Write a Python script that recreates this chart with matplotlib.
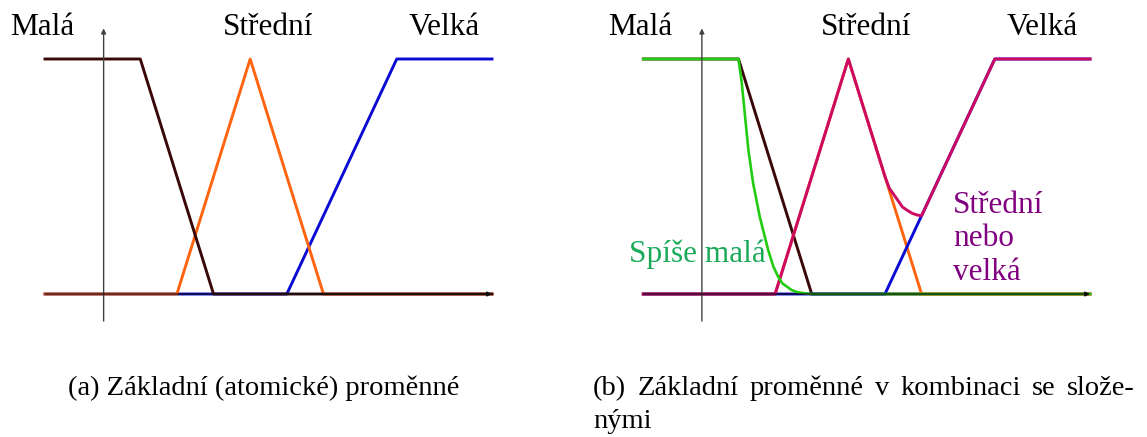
import matplotlib
matplotlib.use("Agg")
import matplotlib.pyplot as plt

plt.rcParams["font.family"] = ["Liberation Serif", "DejaVu Serif"]

# ---- membership functions (x = value of the variable, mu = membership) ----
X_MIN, X_MAX = -1.6, 10.6

mala_x = [X_MIN, 1.0, 3.0, X_MAX]
mala_mu = [1.0, 1.0, 0.0, 0.0]

stredni_x = [X_MIN, 2.0, 4.0, 6.0, X_MAX]
stredni_mu = [0.0, 0.0, 1.0, 0.0, 0.0]

velka_x = [X_MIN, 5.0, 8.0, X_MAX]
velka_mu = [0.0, 0.0, 1.0, 1.0]

# "Spíše malá" (hedged small)
spise_mala_x = [X_MIN, 1.0, 1.04, 1.09, 1.18, 1.27, 1.40, 1.58, 1.81, 1.95,
                2.08, 2.2, 2.45, 2.6, 2.81, 3.0, X_MAX]
spise_mala_mu = [1.0, 1.0, 0.955, 0.897, 0.755, 0.613, 0.471, 0.329, 0.187, 0.118,
                 0.074, 0.045, 0.017, 0.008, 0.003, 0.0, 0.0]

# "Střední nebo velká" (medium or large)
snv_x = [X_MIN, 2.0, 4.0, 5.0, 5.12, 5.30, 5.48, 5.62, 5.75, 5.88, 6.0, 8.0, X_MAX]
snv_mu = [0.0, 0.0, 1.0, 0.5, 0.45, 0.41, 0.37, 0.355, 0.343, 0.336, 0.333, 1.0, 1.0]

labels = ["Malá", "Střední", "Velká"]
label_x = [-1.68, 4.49, 9.30]

caption_a = "(a) Základní (atomické) proměnné"
caption_b_words = ["(b)", "Základní", "proměnné", "v", "kombinaci", "se", "slože-"]
caption_b_line2 = "nými"

C_MALA = "#3a0808"
C_STREDNI = "#ff6410"
C_VELKA = "#0a0ad2"
C_SNV = "#cc0a64"
C_SPISE = "#22cc10"
C_SPISE_TXT = "#1aaa5a"
C_SNV_TXT = "#800080"

W, H = 1147, 437
fig = plt.figure(figsize=(W / 100, H / 100), dpi=100)


def px_axes(x0, x1, ytop, ybot):
    return fig.add_axes([x0 / W, 1 - ybot / H, (x1 - x0) / W, (ybot - ytop) / H])


def base_axes(ax):
    ax.set_xlim(X_MIN, X_MAX)
    ax.set_ylim(0, 1)
    ax.axis("off")
    # vertical axis
    ax.annotate("", xy=(0, 1.13), xytext=(0, -0.115),
                arrowprops=dict(arrowstyle="-|>", color="#404040", lw=1.0,
                                mutation_scale=7, shrinkA=0, shrinkB=0),
                annotation_clip=False, zorder=6)
    # horizontal axis
    ax.annotate("", xy=(X_MAX, 0), xytext=(X_MIN, 0),
                arrowprops=dict(arrowstyle="-|>", color="#101010", lw=0.9,
                                mutation_scale=7, shrinkA=0, shrinkB=0),
                annotation_clip=False, zorder=6)
    for lab, lx in zip(labels, label_x):
        ax.text(lx, 1.102, lab, ha="center", va="baseline", fontsize=22.5,
                color="black", clip_on=False)


LW = 2.1

# ---- panel (a) ----
ax_a = px_axes(45, 492, 59, 294)
base_axes(ax_a)
ax_a.plot(velka_x, velka_mu, color=C_VELKA, lw=LW, clip_on=False, zorder=2)
ax_a.plot(stredni_x, stredni_mu, color=C_STREDNI, lw=LW, clip_on=False, zorder=3)
ax_a.plot(mala_x, mala_mu, color=C_MALA, lw=LW, clip_on=False, zorder=4)

# ---- panel (b) ----
ax_b = px_axes(643.3, 1090, 59, 294)
base_axes(ax_b)
ax_b.plot(mala_x, mala_mu, color=C_MALA, lw=LW, clip_on=False, zorder=2)
ax_b.plot(stredni_x, stredni_mu, color=C_STREDNI, lw=LW, clip_on=False, zorder=2)
ax_b.plot(velka_x, velka_mu, color=C_VELKA, lw=LW, clip_on=False, zorder=2)
ax_b.plot(snv_x, snv_mu, color=C_SNV, lw=LW, clip_on=False, zorder=3,
          solid_joinstyle="round")
ax_b.plot(spise_mala_x, spise_mala_mu, color=C_SPISE, lw=1.9, clip_on=False,
          zorder=4, solid_joinstyle="round")

ax_b.text(-1.98, 0.137, "Spíše malá", ha="left", va="baseline", fontsize=22.5,
          color=C_SPISE_TXT, clip_on=False, zorder=5)
for line, yb in zip(["Střední", "nebo", "velká"], [0.345, 0.204, 0.060]):
    ax_b.text(6.86, yb, line, ha="left", va="baseline", fontsize=22.5,
              color=C_SNV_TXT, clip_on=False, zorder=5)

# ---- captions ----
CAP_FS = 20.5
fig.text(68 / W, 1 - 395 / H, caption_a, ha="left", va="baseline",
         fontsize=CAP_FS)

# justified first line of caption (b)
fig.canvas.draw()
renderer = fig.canvas.get_renderer()
x_left, x_right = 593, 1135
word_artists = []
widths = []
for w in caption_b_words:
    t = fig.text(0, 1 - 395 / H, w, ha="left", va="baseline", fontsize=CAP_FS)
    bb = t.get_window_extent(renderer)
    word_artists.append(t)
    widths.append(bb.width)
gap = (x_right - x_left - sum(widths)) / (len(caption_b_words) - 1)
xpos = x_left
for t, wd in zip(word_artists, widths):
    t.set_x(xpos / W)
    xpos += wd + gap
fig.text(x_left / W, 1 - 428 / H, caption_b_line2, ha="left", va="baseline",
         fontsize=CAP_FS)

fig.savefig("out.png", dpi=100)
